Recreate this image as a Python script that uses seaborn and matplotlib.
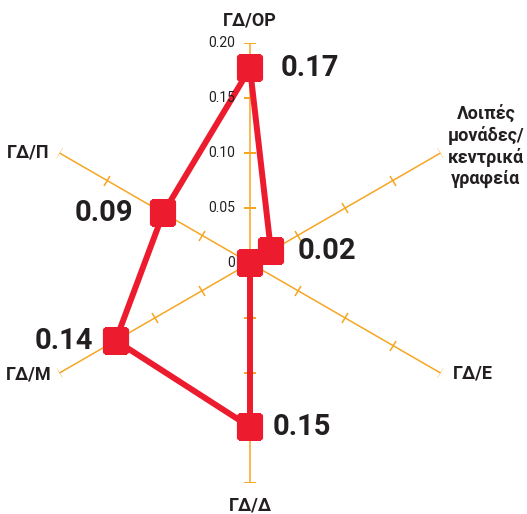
import numpy as np
import pandas as pd
import matplotlib
matplotlib.use('Agg')
import matplotlib.pyplot as plt
from matplotlib.markers import MarkerStyle
from matplotlib.transforms import Affine2D
import seaborn as sns

# data
categories = ['ΓΔ/ΟΡ', 'Λοιπές\nμονάδες/\nκεντρικά\nγραφεία', 'ΓΔ/Ε', 'ΓΔ/Δ', 'ΓΔ/Μ', 'ΓΔ/Π']
values = [0.177, 0.022, 0.0, 0.149, 0.141, 0.091]
value_labels = ['0.17', '0.02', '', '0.15', '0.14', '0.09']
r_ticks = [0, 0.05, 0.10, 0.15, 0.20]
r_tick_labels = ['0', '0.05', '0.10', '0.15', '0.20']
r_max = 0.20

RED = '#ED1B2E'
ORANGE = '#F6A623'
DARK = '#231F20'

sns.set_style('white')
plt.rcParams['font.family'] = ['Roboto', 'DejaVu Sans']

fig = plt.figure(figsize=(5.27, 5.14), dpi=100)
ax = fig.add_axes([30 / 527, 31 / 514, 440 / 527, 440 / 514], projection='polar')
ax.set_theta_zero_location('N')
ax.set_theta_direction(-1)

n = len(categories)
thetas = np.arange(n) * 2 * np.pi / n

# spokes with ticks
for th in thetas:
    ax.plot([th, th], [0, r_max], color=ORANGE, lw=1.1, zorder=1)
    screen_deg = 90 - np.degrees(th)
    mk = MarkerStyle('_', transform=Affine2D().rotate_deg(screen_deg - 90))
    ax.plot([th] * (len(r_ticks) - 1), r_ticks[1:], ls='none', marker=mk,
            markersize=8, markeredgewidth=1.1, color=ORANGE, zorder=1)

df = pd.DataFrame({'theta': list(thetas) + [2 * np.pi],
                   'value': values + [values[0]]})
sns.lineplot(data=df, x='theta', y='value', sort=False, estimator=None,
             color=RED, lw=4.3, ax=ax, zorder=3)
sq = MarkerStyle('s', joinstyle='round')
sns.scatterplot(data=df.iloc[:n], x='theta', y='value', marker=sq, s=256,
                color=RED, edgecolor=RED, linewidth=3, ax=ax, zorder=4)

ax.set_rlim(0, r_max)
ax.grid(False)
ax.spines['polar'].set_visible(False)
ax.set_xticks([])
ax.set_yticks([])
ax.set_xlabel('')
ax.set_ylabel('')

# radial tick labels along the top spoke
for r, lab in zip(r_ticks, r_tick_labels):
    ax.annotate(lab, xy=(0, r), xytext=(-11, 0), textcoords='offset points',
                ha='right', va='center', fontsize=10, color=DARK)

# category labels
cat_style = [((0, 16), 'center'), ((5, 5), 'left'), ((9, 0), 'left'),
             ((0, -16), 'center'), ((-6, -1), 'right'), ((-7, 0), 'right')]
for th, lab, (off, ha) in zip(thetas, categories, cat_style):
    ax.annotate(lab, xy=(th, r_max), xytext=off, textcoords='offset points',
                ha=ha, va='center', multialignment='center', linespacing=1.2,
                fontsize=13, fontweight='bold', color=DARK, annotation_clip=False)

# value labels
val_off = [(22, 0), (19, 0), (0, 0), (16, 0), (-16, 0), (-22, 0)]
for th, v, lab, off in zip(thetas, values, value_labels, val_off):
    if not lab:
        continue
    ax.annotate(lab, xy=(th, v), xytext=off, textcoords='offset points',
                ha='left' if off[0] > 0 else 'right', va='center',
                fontsize=21, fontweight='bold', color=DARK)

fig.savefig('out.png', dpi=100)
